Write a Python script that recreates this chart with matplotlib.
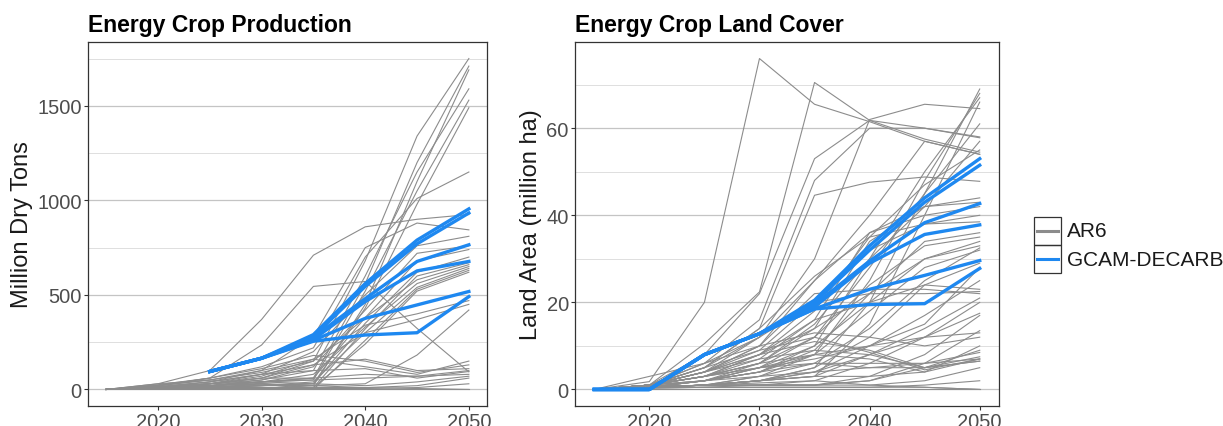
import numpy as np
import matplotlib.pyplot as plt
from matplotlib.patches import Rectangle
from matplotlib.lines import Line2D

plt.rcParams['font.family'] = ['Liberation Sans', 'DejaVu Sans']

years = [2015, 2020, 2025, 2030, 2035, 2040, 2045, 2050]
nan = np.nan

# energy crop production, million dry tons (AR6 scenarios)
prod_ar6 = [
    [0, 20, 50, 90, 150, 680, 1340, 1750],
    [0, 10, 30, 60, 60, 560, 1200, 1710],
    [0, 5, 20, 30, 20, 450, 1100, 1690],
    [0, 15, 40, 80, 100, 600, 1150, 1590],
    [0, 10, 20, 40, 50, 520, 1050, 1530],
    [0, 5, 10, 20, 30, 430, 980, 1490],
    [0, 20, 60, 120, 220, 700, 1010, 1150],
    [0, 30, 100, 370, 710, 860, 900, 925],
    [0, 20, 60, 235, 545, 571, 323, 93],
    [0, 10, 40, 100, 280, 750, 880, 844],
    [0, 10, 30, 80, 200, 500, 760, 810],
    [0, 5, 20, 50, 120, 420, 720, 760],
    [0, 5, 20, 40, 60, 380, 680, 740],
    [0, 10, 20, 40, 30, 350, 620, 700],
    [0, 5, 10, 30, 10, 320, 600, 670],
    [0, 10, 30, 60, 150, 380, 580, 660],
    [0, 5, 20, 40, 80, 330, 560, 650],
    [0, 5, 10, 20, 40, 300, 540, 640],
    [0, 10, 20, 30, 0, 260, 530, 630],
    [0, 5, 15, 25, 10, 240, 520, 620],
    [0, 10, 30, 70, 160, 340, 400, 470],
    [0, 10, 30, 60, 130, 300, 370, 450],
    [0, 5, 10, 20, 20, 30, 182, 420],
    [0, 20, 50, 100, 160, 120, 80, 150],
    [0, 25, 60, 110, 180, 150, 90, 130],
    [0, 15, 40, 80, 130, 160, 100, 110],
    [0, 10, 30, 50, 100, 110, 60, 95],
    [0, 5, 20, 40, 60, 80, 70, 80],
    [0, 5, 10, 20, 30, 20, 40, 70],
    [0, 5, 10, 10, 10, 10, 20, 60],
    [0, 5, 5, 5, 5, 5, 10, 30],
    [0, 0, 0, 0, 0, 0, 0, 0],
    [0, 30, 50, 30, 20, 10, 5, 0],
    [0, 10, 30, 40, 50, 60, 70, 100],
]

# GCAM-DECARB production
prod_gcam = [
    [nan, nan, 95, 165, 290, 560, 790, 955],
    [nan, nan, 95, 165, 280, 545, 770, 933],
    [nan, nan, 95, 165, 275, 480, 677, 765],
    [nan, nan, 95, 165, 265, 465, 627, 677],
    [nan, nan, 95, 165, 260, 376, 447, 518],
    [nan, nan, 95, 165, 255, 288, 300, 491],
]

# energy crop land cover, million ha (AR6 scenarios)
land_ar6 = [
    [0, 1.8, 20, 76, 65.5, 61.5, 57, 54],
    [0, 1, 10.5, 22.4, 70.5, 61.8, 57.5, 54.5],
    [0, 1, 8, 22, 53, 61.8, 60, 58],
    [0, 1, 6, 16, 48, 60, 60, 57.8],
    [0, 1, 5, 14, 44.6, 47.6, 48.8, 47.8],
    [0, 1, 4, 10, 25, 40, 57, 54],
    [0, 1, 4, 12, 30, 62, 65.5, 64.5],
    [0, 0.5, 1, 2, 5, 20, 45, 69],
    [0, 0.5, 1, 3, 8, 25, 48, 68],
    [0, 0.5, 2, 4, 10, 30, 50, 67],
    [0, 0.5, 1, 2, 3, 15, 40, 66],
    [0, 0.5, 2, 5, 12, 28, 45, 61],
    [0, 1, 3, 6, 15, 30, 42, 57],
    [0, 1, 3, 8, 18, 35, 47, 55],
    [0, 1, 2, 6, 14, 34, 42, 44],
    [0, 1, 3, 7, 16, 36, 40, 42],
    [0, 1, 4, 9, 20, 32, 38, 40],
    [0, 0.5, 2, 4, 9, 22, 34, 36],
    [0, 1, 3, 6, 12, 24, 33, 35],
    [0, 1, 4, 8, 14, 22, 30, 33],
    [0, 1, 2, 4, 8, 18, 28, 32],
    [0, 1, 3, 8, 16, 20, 24, 23],
    [0, 1, 4, 10, 22, 23, 23, 22],
    [0, 1, 5, 12, 20, 22, 22, 22.5],
    [0, 0.5, 1, 2, 4, 10, 17, 25],
    [0, 0.5, 1, 2, 3, 8, 14, 21],
    [0, 0.5, 1, 1, 2, 6, 12, 20],
    [0, 0.5, 1, 2, 4, 8, 12, 17.5],
    [0, 0.5, 1, 1, 1, 3, 8, 17],
    [0, 0.5, 2, 5, 8, 10, 12, 13],
    [0, 1, 4, 8, 11, 9, 5, 7.5],
    [0, 1, 5, 9, 12, 8.5, 4.5, 7],
    [0, 1, 4, 7, 9, 8, 5, 6.5],
    [0, 1, 3, 6, 8, 7, 4, 7],
    [0, 0.5, 2, 4, 6, 6, 6, 8.5],
    [0, 0.5, 1, 2, 3, 3, 4, 10],
    [0, 0.5, 1, 1, 1, 1, 2, 5],
    [0, 0.3, 0.5, 0.5, 0.5, 0.5, 1, 2],
    [0, 0.3, 0.5, 0.5, 0.5, 0.5, 0.5, 0],
    [0, 0, 0, 0, 0, 0, 0, 0],
    [0, 0.5, 1, 1.5, 2, 1, 0.5, 0],
    [0, 3, 6, 10, 13, 12, 10, 12],
    [0, 1, 3, 5, 7, 10, 15, 28],
    [0, 0.5, 1, 3, 6, 14, 25, 32.5],
    [0, 1, 2, 5, 10, 20, 30, 34],
    [0, 0.5, 1, 2, 5, 12, 24, 29],
    [0, 1, 6, 12, 25, 36, 42, 43],
    [0, 1, 5, 14, 26, 35, 38, 38.5],
    [0, 0.5, 1, 1, 1, 2, 6, 13.5],
    [0, 0.5, 0.5, 1, 1, 2, 5, 9],
    [0, 1, 3, 5, 6, 5, 5, 6.5],
    [0, 0.5, 2, 3, 4, 5, 6, 7],
]

# GCAM-DECARB land cover
land_gcam = [
    [0, 0, 8, 12.8, 20.5, 33, 44, 53],
    [0, 0, 8, 12.8, 20, 32, 43, 51.5],
    [0, 0, 8, 12.8, 19.5, 29.5, 38.3, 42.7],
    [0, 0, 8, 12.8, 19, 29, 35.6, 37.8],
    [0, 0, 8, 12.8, 18.5, 23, 26.2, 29.6],
    [0, 0, 8, 12.8, 18.5, 19.5, 19.7, 27.8],
]

gray = '#8c8c8c'
blue = '#1e88f0'


def style_axes(ax, ylim, major, minor, ylabel, title):
    ax.set_xlim(2013.25, 2051.75)
    ax.set_ylim(*ylim)
    ax.set_xticks([2020, 2030, 2040, 2050])
    ax.set_yticks(major)
    ax.set_yticks(minor, minor=True)
    ax.grid(axis='y', which='major', color='#c4c4c4', lw=0.9)
    ax.grid(axis='y', which='minor', color='#dedede', lw=0.7)
    ax.set_axisbelow(True)
    for s in ax.spines.values():
        s.set_color('#333333')
        s.set_linewidth(0.9)
    ax.tick_params(which='major', length=3, color='#333333', labelsize=14.5,
                   labelcolor='#4d4d4d', pad=1.5)
    ax.tick_params(which='minor', length=0)
    ax.set_ylabel(ylabel, fontsize=17, color='#1a1a1a', labelpad=3)
    ax.set_title(title, loc='left', fontsize=16.5, fontweight='bold', pad=8)


fig = plt.figure(figsize=(12.23, 4.27), dpi=100)
ax1 = fig.add_axes([88 / 1223, 1 - 407 / 427, 399 / 1223, 364 / 427])
ax2 = fig.add_axes([575 / 1223, 1 - 407 / 427, 424 / 1223, 364 / 427])

for row in prod_ar6:
    ax1.plot(years, row, color=gray, lw=0.8)
for row in prod_gcam:
    ax1.plot(years, row, color=blue, lw=2.4)
style_axes(ax1, (-87.5, 1837.5), [0, 500, 1000, 1500], [250, 750, 1250, 1750],
           'Million Dry Tons', 'Energy Crop Production')

for row in land_ar6:
    ax2.plot(years, row, color=gray, lw=0.8)
for row in land_gcam:
    ax2.plot(years, row, color=blue, lw=2.4)
style_axes(ax2, (-3.8, 79.8), [0, 20, 40, 60], [10, 30, 50, 70],
           'Land Area (million ha)', 'Energy Crop Land Cover')

# legend drawn as ggplot-style keys
lax = fig.add_axes([1034 / 1223, 1 - 274 / 427, 27 / 1223, 56 / 427])
lax.set_xlim(0, 1)
lax.set_ylim(0, 2)
lax.axis('off')
labels = ['AR6', 'GCAM-DECARB']
colors = [gray, blue]
for i, (lab, col) in enumerate(zip(labels, colors)):
    y0 = 1 - i
    lax.add_patch(Rectangle((0, y0), 1, 1, fill=False, ec='#333333', lw=0.9,
                            clip_on=False))
    lax.add_line(Line2D([0.12, 0.88], [y0 + 0.5, y0 + 0.5], color=col, lw=2.2,
                        clip_on=False))
    lax.text(1.22, y0 + 0.5, lab, fontsize=15, va='center', ha='left',
             color='#1a1a1a', clip_on=False)

fig.savefig('out.png', dpi=100)
